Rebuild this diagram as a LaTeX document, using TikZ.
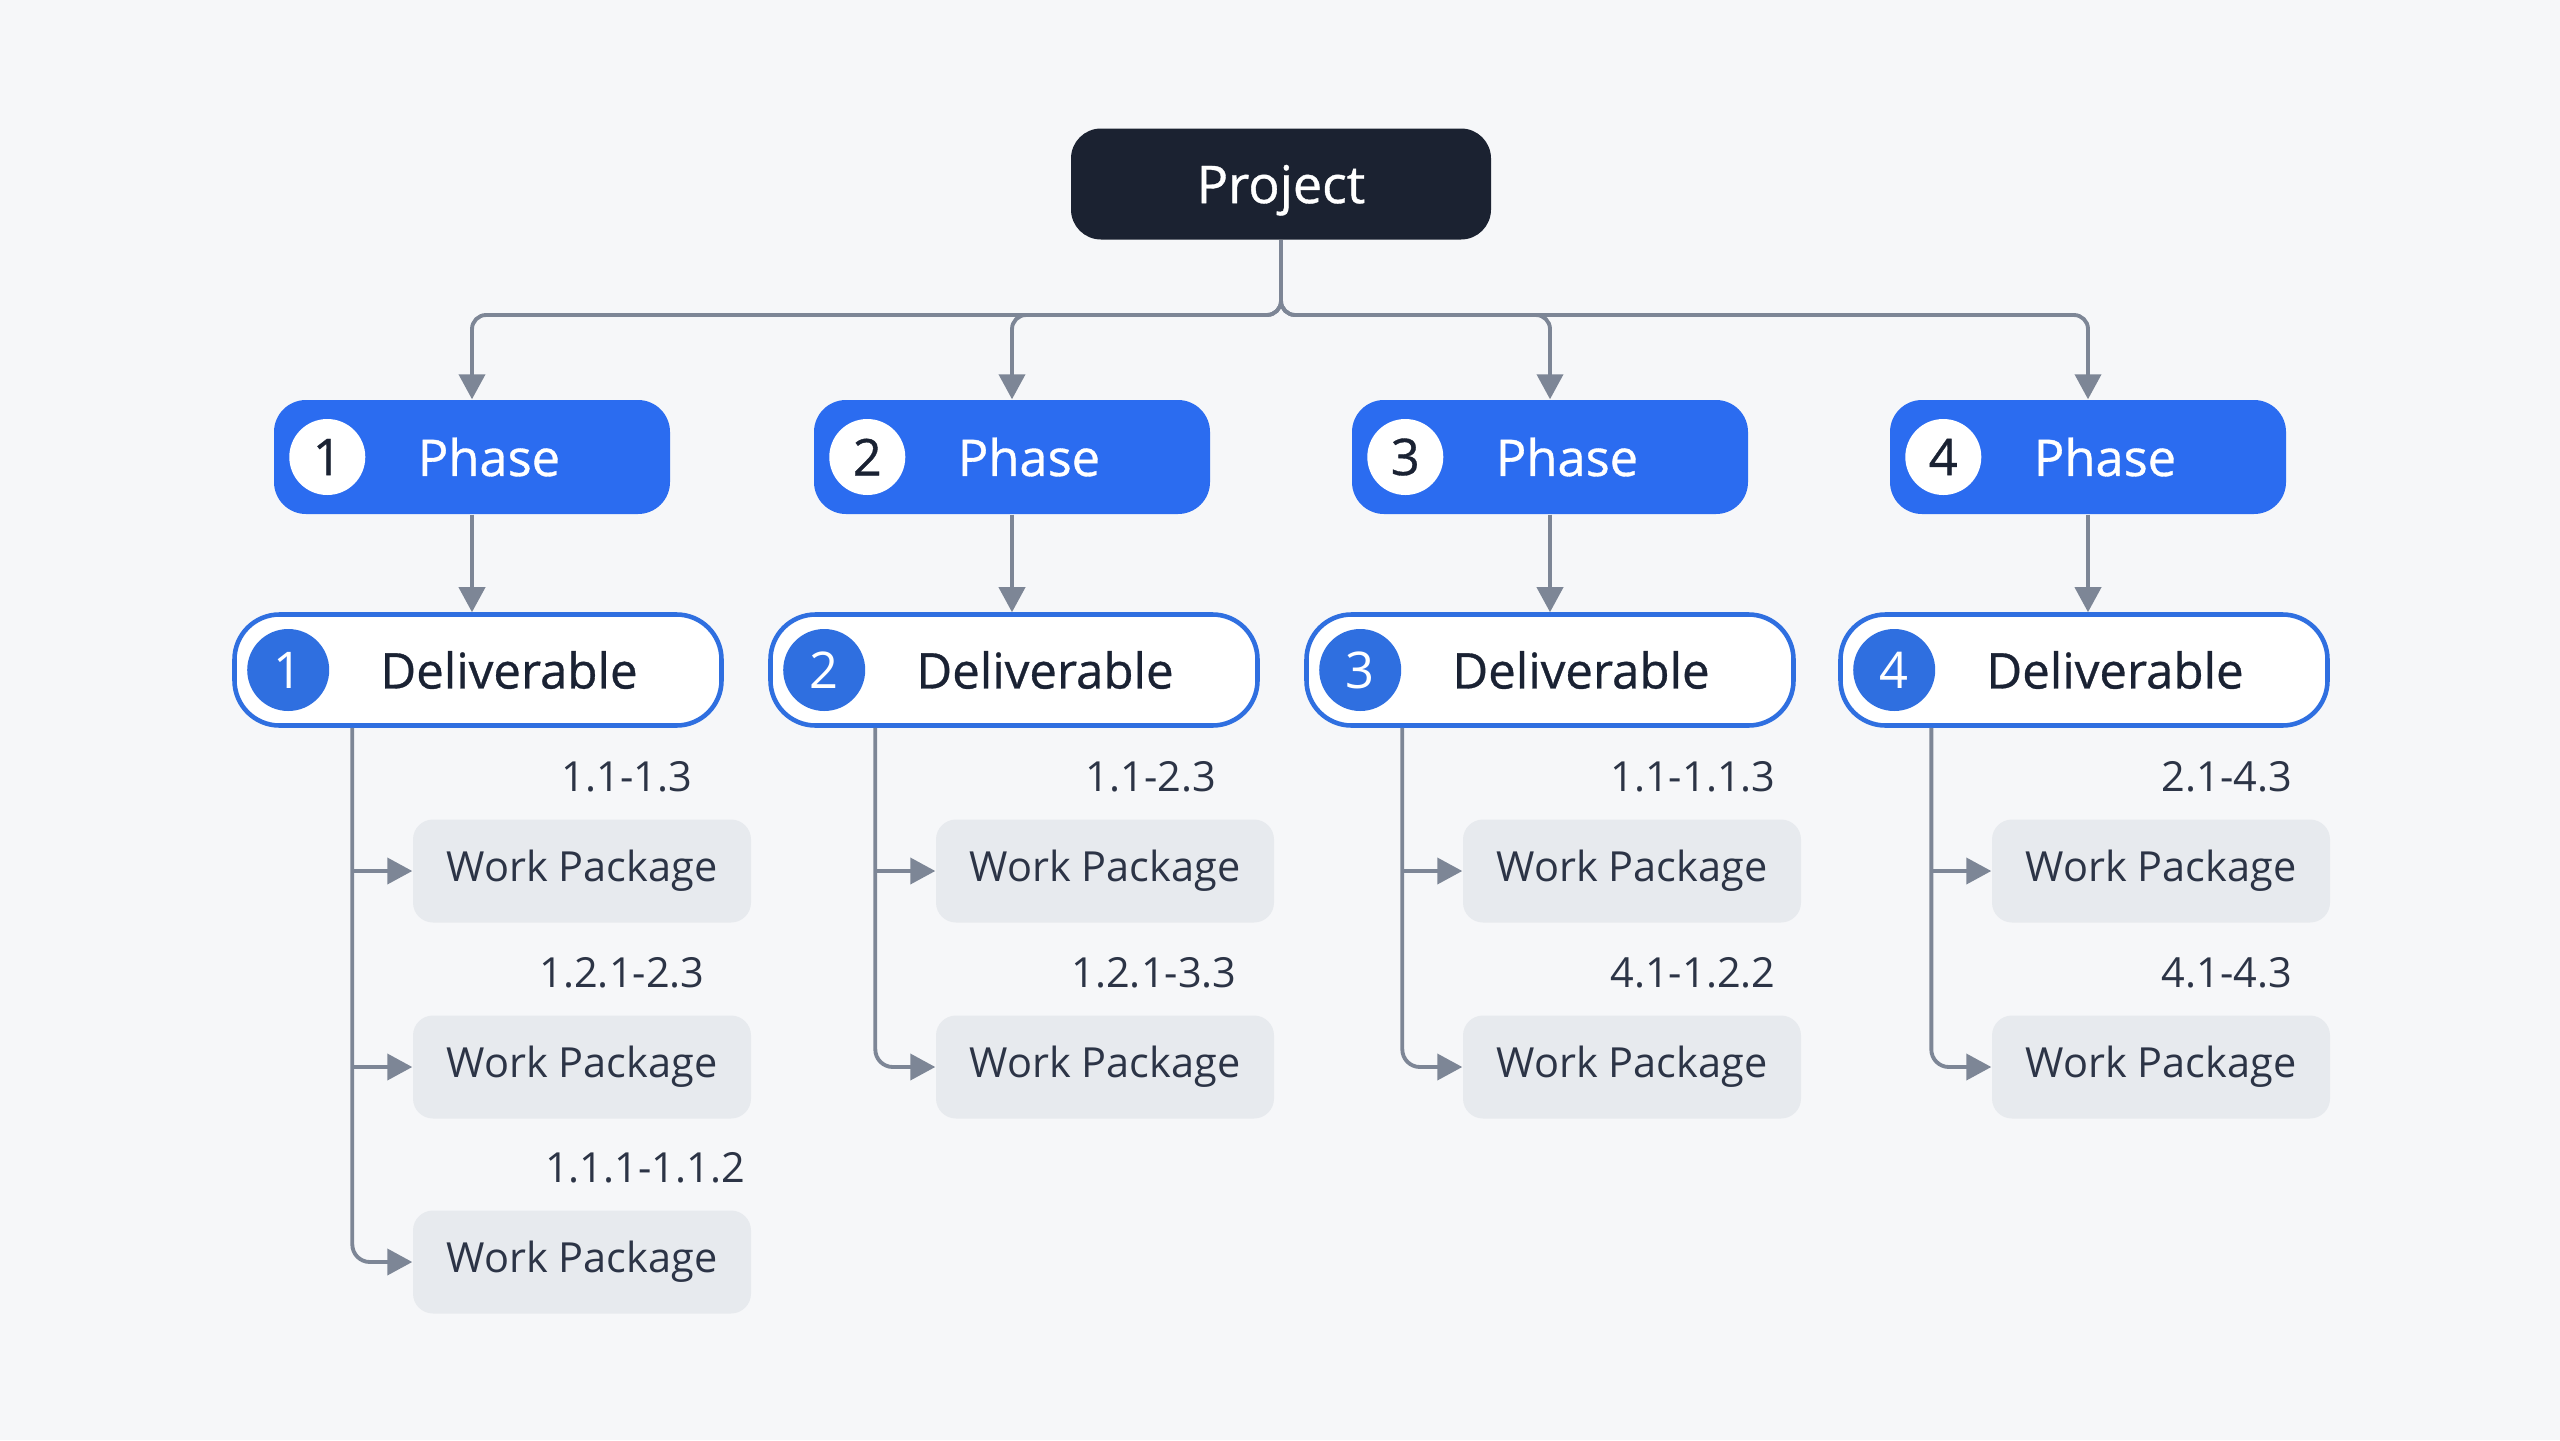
\documentclass[tikz,border=0pt]{standalone}
\usepackage{fontspec}
\setmainfont{Open Sans}
\newfontfamily\medfont[FakeBold=0.7]{Open Sans}
\usetikzlibrary{arrows.meta, positioning}

\definecolor{bgpaper}{HTML}{F6F7F9}
\definecolor{projdark}{HTML}{1B2231}
\definecolor{phaseblue}{HTML}{2B6CF0}
\definecolor{delivblue}{HTML}{2F6FE0}
\definecolor{wpgray}{HTML}{E7EAEE}
\definecolor{textdark}{HTML}{1A2233}
\definecolor{wptext}{HTML}{2C3446}
\definecolor{conngray}{HTML}{7D8696}

\begin{document}
\begin{tikzpicture}[
    project/.style={
        rectangle,
        rounded corners=0.3cm,
        fill=projdark,
        text=white,
        text depth=0pt,
        minimum width=4.2cm,
        minimum height=1.11cm,
        font=\medfont\fontsize{14.8}{18}\selectfont
    },
    phase/.style={
        rectangle,
        rounded corners=0.32cm,
        fill=phaseblue,
        text=white,
        minimum width=3.96cm,
        minimum height=1.14cm,
        font=\medfont\fontsize{14.4}{17}\selectfont
    },
    phasenum/.style={
        circle,
        fill=white,
        text=textdark,
        minimum size=0.76cm,
        inner sep=0pt,
        font=\medfont\fontsize{14.4}{17}\selectfont
    },
    deliv/.style={
        rectangle,
        rounded corners=0.45cm,
        draw=delivblue,
        line width=1.3pt,
        fill=white,
        text=textdark,
        minimum width=4.87cm,
        minimum height=1.11cm,
        font=\medfont\fontsize{14}{17}\selectfont
    },
    delivnum/.style={
        circle,
        fill=delivblue,
        text=white,
        minimum size=0.82cm,
        inner sep=0pt,
        font=\fontsize{14.4}{17}\selectfont
    },
    wp/.style={
        rectangle,
        rounded corners=0.2cm,
        fill=wpgray,
        text=wptext,
        minimum width=3.38cm,
        minimum height=1.03cm,
        font=\fontsize{11.8}{14}\selectfont
    },
    lbl/.style={text=wptext, font=\fontsize{11.8}{14}\selectfont},
    conn/.style={draw=conngray, line width=1.1pt},
    arrow/.style={conn, -{Triangle[length=0.25cm, width=0.26cm]}}
]

% Paper
\fill[bgpaper] (0,0) rectangle (25.6,-14.4);
\useasboundingbox (0,0) rectangle (25.6,-14.4);

% Top node
\node[project] (project) at (12.81,-1.84) {Project};
\coordinate (bus) at (12.81,-3.15);

% Phases
\node[phase] (phase1) at (4.72,-4.57) {\hspace*{0.34cm}Phase};
\node[phase] (phase2) at (10.12,-4.57) {\hspace*{0.34cm}Phase};
\node[phase] (phase3) at (15.50,-4.57) {\hspace*{0.34cm}Phase};
\node[phase] (phase4) at (20.88,-4.57) {\hspace*{0.34cm}Phase};

\node[phasenum] (pn1) at ([xshift=0.54cm]phase1.west) {1};
\node[phasenum] (pn2) at ([xshift=0.54cm]phase2.west) {2};
\node[phasenum] (pn3) at ([xshift=0.54cm]phase3.west) {3};
\node[phasenum] (pn4) at ([xshift=0.54cm]phase4.west) {4};

% Deliverables
\node[deliv] (deliv1) at (4.78,-6.70) {\hspace*{0.62cm}Deliverable};
\node[deliv] (deliv2) at (10.14,-6.70) {\hspace*{0.62cm}Deliverable};
\node[deliv] (deliv3) at (15.50,-6.70) {\hspace*{0.62cm}Deliverable};
\node[deliv] (deliv4) at (20.84,-6.70) {\hspace*{0.62cm}Deliverable};

\node[delivnum] (dn1) at ([xshift=0.56cm]deliv1.west) {1};
\node[delivnum] (dn2) at ([xshift=0.56cm]deliv2.west) {2};
\node[delivnum] (dn3) at ([xshift=0.56cm]deliv3.west) {3};
\node[delivnum] (dn4) at ([xshift=0.56cm]deliv4.west) {4};

% Work packages
\node[wp] (wp11) at (5.82,-8.71) {Work Package};
\node[wp] (wp12) at (5.82,-10.67) {Work Package};
\node[wp] (wp13) at (5.82,-12.62) {Work Package};
\node[wp] (wp21) at (11.05,-8.71) {Work Package};
\node[wp] (wp22) at (11.05,-10.67) {Work Package};
\node[wp] (wp31) at (16.32,-8.71) {Work Package};
\node[wp] (wp32) at (16.32,-10.67) {Work Package};
\node[wp] (wp41) at (21.61,-8.71) {Work Package};
\node[wp] (wp42) at (21.61,-10.67) {Work Package};

% Code ranges
\node[lbl] (l11) at (6.27,-7.77) {1.1-1.3};
\node[lbl] (l12) at (6.22,-9.73) {1.2.1-2.3};
\node[lbl] (l13) at (6.45,-11.68) {1.1.1-1.1.2};
\node[lbl] (l21) at (11.51,-7.77) {1.1-2.3};
\node[lbl] (l22) at (11.54,-9.73) {1.2.1-3.3};
\node[lbl] (l31) at (16.93,-7.77) {1.1-1.1.3};
\node[lbl] (l32) at (16.93,-9.73) {4.1-1.2.2};
\node[lbl] (l41) at (22.27,-7.77) {2.1-4.3};
\node[lbl] (l42) at (22.27,-9.73) {4.1-4.3};

% Project to phases
\draw[arrow, rounded corners=4pt] (project.south) -- (bus) -| (phase1.north);
\draw[arrow, rounded corners=4pt] (project.south) -- (bus) -| (phase2.north);
\draw[arrow, rounded corners=4pt] (project.south) -- (bus) -| (phase3.north);
\draw[arrow, rounded corners=4pt] (project.south) -- (bus) -| (phase4.north);

% Phases to deliverables
\draw[arrow] (phase1.south) -- (phase1.south |- deliv1.north);
\draw[arrow] (phase2.south) -- (phase2.south |- deliv2.north);
\draw[arrow] (phase3.south) -- (phase3.south |- deliv3.north);
\draw[arrow] (phase4.south) -- (phase4.south |- deliv4.north);

% Deliverables to work packages
\coordinate (t11) at ([xshift=-0.6cm]wp11.west);
\coordinate (t12) at ([xshift=-0.6cm]wp12.west);
\coordinate (t13) at ([xshift=-0.6cm]wp13.west);
\draw[arrow] (t11) -- (wp11.west);
\draw[arrow] (t12) -- (wp12.west);
\draw[arrow, rounded corners=5pt] (t13 |- deliv1.south) |- (wp13.west);

\coordinate (t21) at ([xshift=-0.6cm]wp21.west);
\coordinate (t22) at ([xshift=-0.6cm]wp22.west);
\draw[arrow] (t21) -- (wp21.west);
\draw[arrow, rounded corners=5pt] (t22 |- deliv2.south) |- (wp22.west);

\coordinate (t31) at ([xshift=-0.6cm]wp31.west);
\coordinate (t32) at ([xshift=-0.6cm]wp32.west);
\draw[arrow] (t31) -- (wp31.west);
\draw[arrow, rounded corners=5pt] (t32 |- deliv3.south) |- (wp32.west);

\coordinate (t41) at ([xshift=-0.6cm]wp41.west);
\coordinate (t42) at ([xshift=-0.6cm]wp42.west);
\draw[arrow] (t41) -- (wp41.west);
\draw[arrow, rounded corners=5pt] (t42 |- deliv4.south) |- (wp42.west);

\end{tikzpicture}
\end{document}
